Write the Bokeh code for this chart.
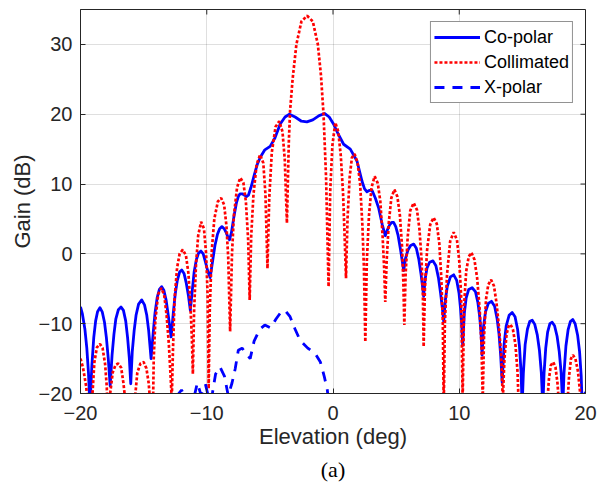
from bokeh.plotting import figure
from bokeh.models import Range1d, FixedTicker, Legend, LegendItem, Title
from bokeh.embed import file_html
from bokeh.resources import INLINE

# ---------------- data ----------------
x_ticks = [-20, -10, 0, 10, 20]
y_ticks = [-20, -10, 0, 10, 20, 30]

copolar_x = [-20.0, -19.85, -19.65, -19.5, -19.37, -19.25,
             -19.1, -18.95, -18.8, -18.65, -18.46, -18.28, -18.1, -17.95, -17.8, -17.65,
             -17.5, -17.35, -17.2, -17.0, -16.79, -16.6, -16.42, -16.27, -16.13, -16.02,
             -15.9, -15.75, -15.6, -15.4, -15.15, -14.93, -14.75, -14.6, -14.41,
             -14.25, -14.1, -13.93, -13.75, -13.57, -13.4, -13.22, -13.05, -12.82,
             -12.65, -12.5, -12.33, -12.15, -11.98, -11.8, -11.62, -11.45, -11.3,
             -11.15, -11.0, -10.82, -10.65, -10.46, -10.28, -10.1, -9.9, -9.73,
             -9.55, -9.35, -9.15, -8.98, -8.8, -8.62, -8.45, -8.3, -8.2,
             -8.05, -7.85, -7.65, -7.5, -7.36, -7.2, -7.0, -6.85, -6.7, -6.5,
             -6.25, -6.0, -5.77, -5.4, -4.98, -4.6, -4.18, -3.8, -3.45, -3.0,
             -2.5, -2.07, -1.6, -1.1, -0.65, -0.3, 0.04, 0.4, 0.84, 1.37,
             1.9, 2.3, 2.5, 2.69, 2.9, 3.09, 3.35, 3.61, 3.9, 4.14,
             4.3, 4.5, 4.65, 4.8, 4.97, 5.15, 5.35, 5.5, 5.6,
             5.75, 5.95, 6.15, 6.39, 6.6, 6.8, 6.98, 7.1, 7.18,
             7.3, 7.45, 7.65, 7.92, 8.15, 8.35, 8.52, 8.65, 8.77,
             8.9, 9.05, 9.3, 9.56, 9.8, 9.98, 10.1, 10.2, 10.27,
             10.4, 10.55, 10.75, 11.02, 11.28, 11.48, 11.62, 11.73, 11.81,
             11.92, 12.08, 12.3, 12.55, 12.8, 13.0, 13.15, 13.28, 13.4,
             13.55, 13.72, 13.95, 14.19, 14.42, 14.62, 14.77, 14.9, 14.98,
             15.08, 15.22, 15.4, 15.58, 15.78, 15.98, 16.18, 16.35, 16.5, 16.62,
             16.72, 16.85, 17.0, 17.18, 17.36, 17.55, 17.75, 17.92, 18.07, 18.2,
             18.3, 18.45, 18.62, 18.8, 18.99, 19.18, 19.38, 19.53, 19.66, 19.74,
             19.85, 20.0]
copolar_y = [-7.6, -8.6, -10.8, -13.5, -17.0, -22.0,
             -16.0, -12.0, -9.6, -8.3, -7.7, -8.3, -9.8, -12.0, -15.0, -18.9,
             -14.5, -11.5, -9.3, -8.0, -7.6, -8.1, -9.6, -12.0, -15.0, -18.6,
             -14.0, -11.0, -8.8, -7.2, -6.6, -7.3, -8.8, -11.0, -15.0,
             -11.5, -8.5, -6.3, -5.1, -4.7, -5.2, -6.6, -8.8, -11.9,
             -8.5, -5.8, -3.8, -2.6, -2.3, -2.8, -4.2, -6.0, -8.1,
             -5.3, -2.6, -0.8, 0.1, 0.4, 0.0, -1.2, -2.6, -3.4,
             -1.2, 1.2, 2.8, 3.6, 3.9, 3.6, 3.0, 2.3, 2.0,
             3.0, 5.3, 7.3, 8.2, 8.6, 8.6, 8.4, 8.2, 8.4, 9.5,
             11.2, 12.8, 13.8, 14.9, 15.4, 16.6, 18.6, 19.6, 20.0, 19.6,
             19.0, 18.9, 19.2, 19.8, 20.1, 19.6, 18.6, 17.2, 15.7, 15.0,
             13.3, 10.4, 9.3, 8.9, 9.1, 9.1, 8.0, 6.6, 4.2, 2.6,
             3.4, 4.2, 4.5, 4.5, 3.9, 2.7, 0.6, -1.2, -2.4,
             -0.6, 0.6, 1.2, 1.4, 0.8, -0.8, -3.0, -4.8, -6.1,
             -3.6, -2.0, -1.2, -1.0, -1.7, -3.4, -5.6, -7.6, -9.7,
             -6.6, -4.7, -3.3, -3.0, -3.8, -5.6, -7.8, -10.3, -13.1,
             -8.5, -6.3, -5.1, -4.85, -5.4, -7.0, -9.0, -11.5, -14.5,
             -10.5, -8.3, -7.1, -6.8, -7.5, -9.3, -11.5, -14.5, -18.4,
             -13.0, -10.3, -8.8, -8.4, -9.0, -10.8, -13.3, -17.0, -22.0,
             -17.0, -13.0, -10.8, -9.7, -9.5, -10.1, -11.6, -13.8, -17.0, -22.0,
             -17.0, -13.5, -11.2, -10.0, -9.8, -10.3, -11.8, -14.0, -17.0, -22.0,
             -17.0, -13.2, -10.9, -9.7, -9.4, -10.0, -11.7, -14.0, -17.5, -22.0,
             -20.5, -19.8]

collimated_x = [-20.0, -19.8, -19.55, -19.35, -19.2, -19.05, -18.9, -18.7, -18.46, -18.25,
                -18.05, -17.92, -17.8, -17.65, -17.45, -17.22, -17.0, -16.78, -16.6, -16.45,
                -16.1, -15.7, -15.5, -15.25, -15.0, -14.78, -14.6, -14.45, -14.3, -14.2,
                -14.07, -13.85, -13.6, -13.37, -13.18, -13.0, -12.85, -12.77, -12.68, -12.55,
                -12.35, -12.15, -11.9, -11.65, -11.45, -11.3, -11.18, -11.1, -11.0, -10.85,
                -10.68, -10.45, -10.22, -10.05, -9.93, -9.85, -9.76, -9.6, -9.4, -9.12,
                -8.86, -8.62, -8.44, -8.3, -8.15, -8.0, -7.85, -7.6, -7.35, -7.1,
                -6.9, -6.72, -6.6, -6.48, -6.3, -6.05, -5.77, -5.52, -5.35, -5.19,
                -5.05, -4.85, -4.55, -4.26, -4.0, -3.82, -3.65, -3.5, -3.4, -3.2,
                -2.9, -2.5, -2.05, -1.6, -1.2, -0.95, -0.75, -0.55, -0.35, -0.22,
                -0.05, 0.18, 0.42, 0.62, 0.8, 0.93, 1.03, 1.15, 1.32, 1.5,
                1.71, 1.95, 2.15, 2.33, 2.45, 2.56, 2.68, 2.85, 3.05, 3.3,
                3.55, 3.75, 3.93, 4.05, 4.14, 4.25, 4.42, 4.62, 4.86, 5.1,
                5.3, 5.47, 5.57, 5.65, 5.75, 5.92, 6.12, 6.39, 6.65, 6.85,
                7.02, 7.12, 7.18, 7.28, 7.45, 7.7, 7.97, 8.22, 8.42, 8.58,
                8.7, 8.77, 8.86, 9.03, 9.28, 9.56, 9.82, 10.0, 10.15, 10.27,
                10.38, 10.55, 10.75, 10.96, 11.2, 11.42, 11.62, 11.76, 11.86, 11.96,
                12.12, 12.3, 12.52, 12.75, 12.95, 13.15, 13.32, 13.45, 13.58, 13.75,
                13.9, 14.06, 14.25, 14.45, 14.62, 14.75, 15.5, 16.5, 16.95, 17.1,
                17.25, 17.44, 17.62, 17.78, 17.92, 18.3, 18.55, 18.7, 18.85, 19.0,
                19.2, 19.4, 19.58, 19.7, 20.0]
collimated_y = [-15.0, -16.3, -19.0, -23.0, -26.0, -20.0, -15.5, -13.4, -12.9, -13.5,
                -15.8, -19.0, -26.0, -20.0, -17.0, -15.9, -15.7, -16.3, -18.5, -21.0,
                -27.0, -21.0, -17.0, -15.7, -15.5, -16.4, -18.5, -22.0, -27.0, -15.0,
                -9.5, -5.8, -4.9, -5.9, -8.8, -13.0, -18.0, -21.0, -14.0, -6.5,
                -2.0, 0.0, 0.6, -0.2, -2.8, -7.2, -12.0, -17.2, -8.0, -1.5,
                2.6, 4.6, 3.6, 0.0, -6.0, -19.3, -8.0, 0.5, 5.0, 7.5,
                8.0, 7.0, 4.0, -0.5, -11.1, 0.0, 5.5, 9.5, 10.9, 10.2,
                7.5, 2.0, -6.6, 2.5, 8.5, 12.8, 14.2, 13.0, 8.5, -2.1,
                8.0, 14.5, 18.2, 19.0, 17.5, 13.5, 4.4, 16.0, 20.5, 25.0,
                30.0, 33.3, 34.1, 33.3, 30.0, 25.5, 20.0, 11.0, -4.7, 9.0,
                15.5, 18.8, 17.5, 14.0, 8.5, 2.0, -3.5, 5.0, 11.0, 13.8,
                14.3, 13.0, 10.0, 4.0, -2.0, -12.6, -1.0, 5.5, 9.5, 11.1,
                10.1, 7.5, 2.5, -2.0, -6.9, -1.0, 4.5, 8.0, 9.2, 8.2,
                5.5, 1.0, -4.0, -10.2, -3.0, 2.5, 6.2, 7.3, 6.3, 3.5,
                -1.0, -6.0, -13.3, -5.0, 0.5, 4.2, 5.2, 4.3, 1.5, -3.5,
                -10.0, -22.0, -10.0, -3.0, 1.8, 3.1, 2.0, -1.0, -6.0, -21.0,
                -7.5, -2.5, -0.4, 0.2, -0.8, -3.5, -8.0, -13.0, -21.0, -12.0,
                -6.5, -4.4, -3.7, -4.6, -7.0, -10.5, -14.5, -21.0, -15.0, -11.5,
                -10.4, -10.1, -10.8, -13.0, -17.0, -24.0, -27.0, -26.0, -22.0, -18.0,
                -16.0, -15.5, -16.2, -18.5, -22.0, -26.0, -22.0, -17.5, -15.0, -14.5,
                -15.0, -16.8, -20.0, -24.0, -22.0]

xpolar_x = [-12.6, -12.3, -12.0, -11.75, -11.5, -11.0, -10.75, -10.45, -10.1, -9.8,
            -9.6, -9.3, -8.95, -8.6, -8.3, -8.0, -7.75, -7.5, -7.2, -6.9,
            -6.56, -6.25, -5.8, -5.4, -4.95, -4.5, -4.1, -3.79, -3.4, -3.0,
            -2.6, -2.0, -1.4, -1.0, -0.7, -0.45, -0.3]
xpolar_y = [-23.0, -20.2, -19.5, -20.3, -23.0, -20.5, -18.5, -20.2, -18.7, -21.0,
            -20.5, -17.2, -16.2, -17.5, -20.3, -18.5, -16.5, -13.8, -13.5, -14.2,
            -15.0, -12.5, -10.8, -10.2, -10.6, -9.3, -8.3, -8.1, -9.0, -10.8,
            -12.4, -13.5, -14.3, -15.5, -17.5, -19.5, -22.0]

series_names = ["Co-polar", "Collimated", "X-polar"]

# ---------------- figure ----------------
AX = "#262626"
FONT = "Liberation Sans"
X0, X1, Y0, Y1 = -20, 20, -20, 35
W, H = 612, 490
BL, BR, BT, BB = 80, 27, 9, 97
TICK_PX = 5

p = figure(width=W, height=H, output_backend="svg", toolbar_location=None,
           x_range=Range1d(X0, X1), y_range=Range1d(Y0, Y1),
           min_border_left=BL, min_border_right=BR, min_border_top=BT, min_border_bottom=BB,
           background_fill_color="white", border_fill_color="white")

p.outline_line_color = AX
p.outline_line_width = 1

for ax, ticks in ((p.xaxis[0], x_ticks), (p.yaxis[0], y_ticks)):
    ax.ticker = FixedTicker(ticks=ticks)
    ax.major_tick_in = TICK_PX
    ax.major_tick_out = 0
    ax.minor_tick_in = 0
    ax.minor_tick_out = 0
    ax.axis_line_color = AX
    ax.major_tick_line_color = AX
    ax.major_label_text_font = FONT
    ax.major_label_text_font_size = "20px"
    ax.major_label_text_color = AX
    ax.axis_label_text_font = FONT
    ax.axis_label_text_font_size = "22px"
    ax.axis_label_text_font_style = "normal"
    ax.axis_label_text_color = AX

p.xaxis.axis_label = "Elevation (deg)"
p.yaxis.axis_label = "Gain (dB)"
p.xaxis.major_label_standoff = 12
p.yaxis.major_label_standoff = 8
p.xaxis.axis_label_standoff = 1
p.yaxis.axis_label_standoff = 1

p.xgrid.ticker = FixedTicker(ticks=x_ticks)
p.ygrid.ticker = FixedTicker(ticks=y_ticks)
for g in (p.xgrid[0], p.ygrid[0]):
    g.grid_line_color = AX
    g.grid_line_alpha = 0.15
    g.grid_line_width = 1

# inward tick marks on the top and right edges of the box (MATLAB "box on")
frame_w = W - BL - BR
frame_h = H - BT - BB
dx = TICK_PX * (X1 - X0) / frame_w
dy = TICK_PX * (Y1 - Y0) / frame_h
p.segment(x0=x_ticks, y0=[Y1] * len(x_ticks), x1=x_ticks, y1=[Y1 - dy] * len(x_ticks),
          line_color=AX, line_width=1)
p.segment(x0=[X1] * len(y_ticks), y0=y_ticks, x1=[X1 - dx] * len(y_ticks), y1=y_ticks,
          line_color=AX, line_width=1)

r1 = p.line(copolar_x, copolar_y, line_color="#0000ff", line_width=2.8,
            line_join="round")
r2 = p.line(collimated_x, collimated_y, line_color="#ff0000", line_width=2.7,
            line_dash="3 2")
r3 = p.line(xpolar_x, xpolar_y, line_color="#0000ff", line_width=2.8,
            line_dash="10 8")

legend = Legend(items=[LegendItem(label=series_names[0], renderers=[r1]),
                       LegendItem(label=series_names[1], renderers=[r2]),
                       LegendItem(label=series_names[2], renderers=[r3])],
                location="top_right")
legend.label_text_font = FONT
legend.label_text_font_size = "18px"
legend.label_text_color = "black"
legend.glyph_width = 46
legend.glyph_height = 24
legend.label_height = 24
legend.label_standoff = 4
legend.padding = 3
legend.spacing = 1
legend.margin = 12
legend.border_line_color = AX
legend.border_line_width = 1
legend.background_fill_color = "white"
legend.background_fill_alpha = 1
p.add_layout(legend, "center")

cap = Title(text="(a)", align="center", text_font="Liberation Serif",
            text_font_size="22px", text_font_style="normal", text_color="black",
            standoff=6)
p.add_layout(cap, "below")

open("out.html", "w").write(file_html(p, INLINE))
